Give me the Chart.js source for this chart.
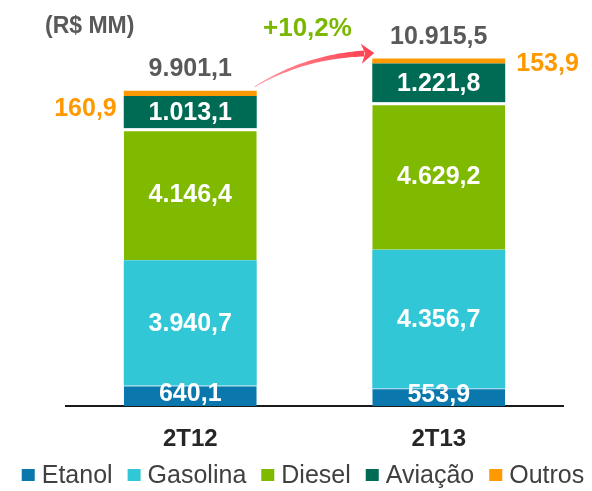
<!DOCTYPE html>
<html>
<head>
<meta charset="utf-8">
<script src="https://cdn.jsdelivr.net/npm/chart.js@4.4.1/dist/chart.umd.min.js"></script>
<style>
  html, body { margin: 0; padding: 0; background: #ffffff; }
  #wrap { width: 592px; height: 491px; }
</style>
</head>
<body>
<div id="wrap"><canvas id="c" width="592" height="491"></canvas></div>
<script>
// ---- data ----
const categories = ['2T12', '2T13'];
const etanol   = [640.1, 553.9];
const gasolina = [3940.7, 4356.7];
const diesel   = [4146.4, 4629.2];
const aviacao  = [1013.1, 1221.8];
const outros   = [160.9, 153.9];
const totals   = [9901.1, 10915.5];
const unitLabel = '(R$ MM)';

const FONT = '"Liberation Sans", Arial, Helvetica, sans-serif';

function fmt(v) {
  const neg = v < 0; v = Math.abs(v);
  let s = v.toFixed(1);
  let [ip, dp] = s.split('.');
  ip = ip.replace(/\B(?=(\d{3})+(?!\d))/g, '.');
  return (neg ? '-' : '') + ip + ',' + dp;
}

const growth = (totals[1] / totals[0] - 1) * 100;
const growthLabel = '+' + growth.toFixed(1).replace('.', ',') + '%';

const labelsPlugin = {
  id: 'labelsPlugin',
  afterDatasetsDraw(chart) {
    const ctx = chart.ctx;
    ctx.save();
    // inside labels for first four datasets
    for (let d = 0; d < 4; d++) {
      const meta = chart.getDatasetMeta(d);
      meta.data.forEach((el, i) => {
        const p = el.getProps(['x', 'y', 'base'], true);
        const v = chart.data.datasets[d].data[i];
        ctx.font = 'bold 25px ' + FONT;
        ctx.fillStyle = '#ffffff';
        ctx.textAlign = 'center';
        ctx.textBaseline = 'middle';
        const cy = (p.y + p.base) / 2 + (d === 0 ? -2 : 1);
        ctx.fillText(fmt(v), p.x, cy);
      });
    }
    // outros labels + totals
    const om = chart.getDatasetMeta(4);
    om.data.forEach((el, i) => {
      const p = el.getProps(['x', 'y', 'base', 'width'], true);
      const v = chart.data.datasets[4].data[i];
      ctx.font = 'bold 25px ' + FONT;
      ctx.fillStyle = '#FF9900';
      ctx.textBaseline = 'alphabetic';
      if (i === 0) {
        ctx.textAlign = 'right';
        ctx.fillText(fmt(v), p.x - p.width / 2 - 7, p.y + 25);
      } else {
        ctx.textAlign = 'left';
        ctx.fillText(fmt(v), p.x + p.width / 2 + 11, p.y + 12);
      }
      ctx.fillStyle = '#595959';
      ctx.textAlign = 'center';
      ctx.fillText(fmt(totals[i]), p.x, p.y - 15);
    });

    // unit label
    ctx.textAlign = 'left';
    ctx.textBaseline = 'alphabetic';
    ctx.font = 'bold 23px ' + FONT;
    ctx.fillStyle = '#595959';
    ctx.fillText(unitLabel, 45, 33);

    // arrow between tops
    const a = om.data[0].getProps(['x', 'y', 'width'], true);
    const b = om.data[1].getProps(['x', 'y', 'width'], true);
    const P0 = { x: a.x + a.width / 2 - 2, y: a.y - 4 };
    const P2 = { x: b.x - b.width / 2 - 8, y: b.y - 5 };
    const C = { x: P0.x + (P2.x - P0.x) * 0.45, y: P2.y + 3 };
    const q = (t) => ({
      x: (1 - t) * (1 - t) * P0.x + 2 * t * (1 - t) * C.x + t * t * P2.x,
      y: (1 - t) * (1 - t) * P0.y + 2 * t * (1 - t) * C.y + t * t * P2.y
    });
    const dq = (t) => ({
      x: 2 * (1 - t) * (C.x - P0.x) + 2 * t * (P2.x - C.x),
      y: 2 * (1 - t) * (C.y - P0.y) + 2 * t * (P2.y - C.y)
    });
    const grad = ctx.createLinearGradient(P0.x, P0.y, P2.x, P2.y);
    grad.addColorStop(0, '#FF9AA4');
    grad.addColorStop(1, '#FF4452');
    ctx.fillStyle = grad;
    const N = 40, left = [], right = [];
    for (let k = 0; k <= N; k++) {
      const t = k / N;
      const pt = q(t), dv = dq(t);
      const len = Math.hypot(dv.x, dv.y);
      const nx = -dv.y / len, ny = dv.x / len;
      const w = 0.4 + 2.6 * t;
      left.push({ x: pt.x + nx * w, y: pt.y + ny * w });
      right.push({ x: pt.x - nx * w, y: pt.y - ny * w });
    }
    ctx.beginPath();
    ctx.moveTo(left[0].x, left[0].y);
    left.forEach(pt => ctx.lineTo(pt.x, pt.y));
    for (let k = right.length - 1; k >= 0; k--) ctx.lineTo(right[k].x, right[k].y);
    ctx.closePath();
    ctx.fill();
    // head
    const de = dq(1), le = Math.hypot(de.x, de.y);
    const ux = de.x / le, uy = de.y / le, nx = -uy, ny = ux;
    const tip = { x: P2.x + ux * 10, y: P2.y + uy * 10 };
    ctx.fillStyle = '#FF4452';
    ctx.beginPath();
    ctx.moveTo(tip.x, tip.y);
    ctx.lineTo(P2.x - ux * 3 + nx * 10, P2.y - uy * 3 + ny * 10);
    ctx.lineTo(P2.x + ux * 1, P2.y + uy * 1);
    ctx.lineTo(P2.x - ux * 3 - nx * 10, P2.y - uy * 3 - ny * 10);
    ctx.closePath();
    ctx.fill();

    ctx.font = 'bold 26px ' + FONT;
    ctx.fillStyle = '#7AB800';
    ctx.textAlign = 'left';
    ctx.fillText(growthLabel, 263, 36);

    // legend
    ctx.font = '25px ' + FONT;
    ctx.textBaseline = 'middle';
    const items = chart.data.datasets.map(ds => ({ label: ds.label, color: ds.backgroundColor }));
    const box = 13, gap = 7, itemGap = 15;
    let total = 0;
    items.forEach((it, k) => {
      it.w = ctx.measureText(it.label).width;
      total += box + gap + it.w + (k < items.length - 1 ? itemGap : 0);
    });
    let x = (18 + 588) / 2 - total / 2;
    const ly = 475;
    items.forEach(it => {
      ctx.fillStyle = it.color;
      ctx.fillRect(x, ly - 6, box, 12);
      ctx.fillStyle = '#404040';
      ctx.textAlign = 'left';
      ctx.fillText(it.label, x + box + gap, ly + 1);
      x += box + gap + it.w + itemGap;
    });
    ctx.restore();
  }
};

const mk = (label, data, color, bw, bc) => ({
  label, data, backgroundColor: color,
  borderWidth: bw || 0, borderColor: bc || 'rgba(0,0,0,0)', borderSkipped: 'start'
});

new Chart(document.getElementById('c'), {
  type: 'bar',
  data: {
    labels: categories,
    datasets: [
      mk('Etanol', etanol, '#0A78AD', { top: 1 }, 'rgba(120,200,230,0.9)'),
      mk('Gasolina', gasolina, '#31C7D6'),
      mk('Diesel', diesel, '#7FB900', { top: 3 }, 'rgba(255,255,255,0.85)'),
      mk('Aviação', aviacao, '#006B55'),
      mk('Outros', outros, '#FF9900')
    ]
  },
  options: {
    responsive: false,
    animation: false,
    devicePixelRatio: 1,
    layout: { padding: { top: 24, left: 66, right: 29, bottom: 0 } },
    datasets: { bar: { barPercentage: 1, categoryPercentage: 0.535 } },
    plugins: { legend: { display: false }, tooltip: { enabled: false }, title: { display: false } },
    scales: {
      x: {
        stacked: true,
        grid: { display: false, drawTicks: false },
        border: { display: true, color: '#1a1a1a', width: 2 },
        ticks: { font: { family: FONT, size: 24, weight: 'bold' }, color: '#262626', padding: 19 },
        afterFit: (s) => { s.height = 85; }
      },
      y: { stacked: true, display: false, min: 0, max: 12000 }
    }
  },
  plugins: [labelsPlugin]
});
</script>
</body>
</html>
